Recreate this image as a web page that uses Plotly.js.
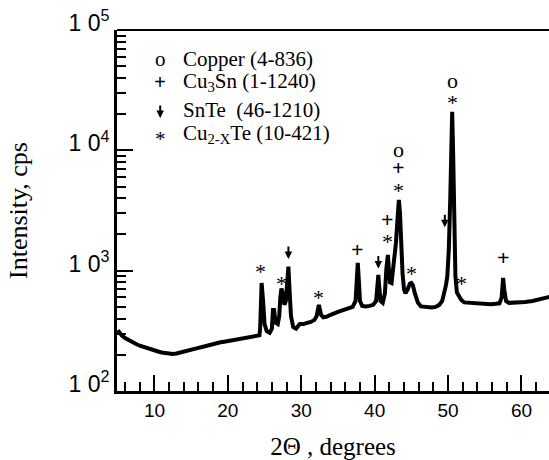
<!DOCTYPE html>
<html>
<head>
<meta charset="utf-8">
<script src="https://cdn.plot.ly/plotly-3.0.1.min.js"></script>
<style>html,body{margin:0;padding:0;background:#fff;}#chart{width:549px;height:460px;}</style>
</head>
<body>
<div id="chart"></div>
<script>
// ---- data ----
const twoTheta = [
  5.0, 5.3, 5.6, 6.0, 6.5, 7.0, 7.5, 8.0, 8.5, 9.0, 9.5, 10.0, 10.5, 11.0, 11.5, 12.0, 12.5, 13.0, 13.5, 14.0,
  14.5, 15.0, 15.5, 16.0, 16.5, 17.0, 17.5, 18.0, 18.5, 19.0, 19.5, 20.0, 20.5, 21.0, 21.5, 22.0, 22.5, 23.0, 23.5, 24.0,
  24.3, 24.4, 24.5, 24.6, 24.8, 25.0, 25.3, 25.7, 26.0, 26.15, 26.3, 26.5, 26.8, 27.0, 27.15, 27.3, 27.5, 27.7, 27.9, 28.1,
  28.25, 28.4, 28.6, 28.9, 29.3, 29.8, 30.3, 30.8, 31.3, 31.8, 32.1, 32.4, 32.7, 33.0, 33.5, 34.0, 34.5, 35.0, 35.5, 36.0,
  36.5, 37.0, 37.4, 37.55, 37.7, 37.85, 38.0, 38.3, 38.8, 39.3, 39.8, 40.2, 40.4, 40.5, 40.6, 40.8, 41.1, 41.4, 41.6, 41.8,
  41.95, 42.1, 42.3, 42.6, 42.9, 43.1, 43.3, 43.45, 43.6, 43.8, 44.0, 44.2, 44.5, 44.8, 45.0, 45.2, 45.5, 45.9, 46.3, 46.8,
  47.3, 47.8, 48.3, 48.8, 49.2, 49.5, 49.7, 49.9, 50.1, 50.3, 50.45, 50.56, 50.7, 50.85, 51.0, 51.2, 51.5, 51.8, 52.2, 52.8,
  53.5, 54.2, 55.0, 55.8, 56.5, 57.0, 57.3, 57.5, 57.65, 57.9, 58.3, 59.0, 59.8, 60.5, 61.5, 62.5, 63.5, 64.0
];
const intensity = [
  320, 300, 287, 275, 263, 254, 246, 238, 232, 228, 222, 218, 213, 209, 206, 204, 203, 205, 208, 212,
  216, 220, 224, 228, 232, 237, 241, 246, 250, 254, 257, 260, 263, 266, 270, 272, 275, 278, 281, 284,
  290, 330, 600, 790, 560, 360, 315, 305, 330, 470, 470, 370, 360, 420, 600, 710, 640, 520, 560, 900,
  1080, 700, 420, 340, 330, 360, 360, 368, 375, 390, 420, 520, 430, 410, 415, 430, 445, 455, 465, 475,
  488, 500, 560, 900, 1160, 820, 560, 510, 505, 510, 520, 560, 800, 920, 760, 560, 540, 650, 1050, 1350,
  1000, 800, 790, 1100, 1700, 2600, 3870, 3000, 1700, 950, 700, 650, 700, 780, 790, 760, 640, 540, 505, 500,
  495, 495, 500, 520, 560, 650, 750, 900, 1500, 4000, 14000, 20900, 9000, 2000, 900, 660, 600, 570, 545, 540,
  535, 530, 530, 525, 530, 535, 600, 870, 700, 560, 540, 540, 545, 550, 560, 575, 600, 610
];
const yTickValues = [100, 1000, 10000, 100000];
const yTickLabels = ['1 0<sup>2</sup>', '1 0<sup>3</sup>', '1 0<sup>4</sup>', '1 0<sup>5</sup>'];
const xTickValues = [10, 20, 30, 40, 50, 60];
const xTickLabels = ['10', '20', '30', '40', '50', '60'];

// peak identification symbols: 2theta, height (cps), symbol
const peakMarkTheta  = [24.5, 27.3, 32.4, 37.7, 41.8, 41.8, 43.3, 43.3, 43.3, 45.0, 50.56, 50.56, 51.8, 57.5, 64.0];
const peakMarkCps    = [1075, 853, 653, 1486, 1905, 2638, 5150, 7140, 9700, 1033, 27300, 36300, 853, 1276, 921];
const peakMarkSymbol = ['*', '*', '*', '+', '*', '+', '*', '+', 'o', '*', '*', 'o', '*', '+', '*'];
// SnTe arrows: 2theta, tip height (cps)
const snTeTheta = [28.25, 40.5, 49.56];
const snTeCps   = [1250, 1040, 2300];

// legend
const legendSymbols = ['o', '+', '', '*'];
const legendNames = ['Copper (4-836)', 'Cu<sub>3</sub>Sn (1-1240)', 'SnTe  (46-1210)', 'Cu<sub>2-X</sub>Te (10-421)'];

// ---- build ----
const serif = 'Liberation Serif, Times New Roman, serif';
const sans = 'Liberation Sans, Arial, sans-serif';

const minorY = [];
for (let d = 2; d < 5; d++) for (let k = 2; k <= 9; k++) minorY.push(k * Math.pow(10, d));

function symText(s) { return s === '+' ? '<b>+</b>' : s; }

const annotations = [];
peakMarkTheta.forEach((t, i) => {
  const s = peakMarkSymbol[i];
  annotations.push({
    x: t, y: Math.log10(peakMarkCps[i]), xref: 'x', yref: 'y',
    text: symText(s), showarrow: false, xanchor: 'center', yanchor: 'middle',
    yshift: s === '*' ? -5 : (s === 'o' ? 2 : 0),
    font: {family: serif, size: 22, color: '#000'}
  });
});
snTeTheta.forEach((t, i) => {
  annotations.push({
    x: t, y: Math.log10(snTeCps[i]), xref: 'x', yref: 'y',
    text: '', showarrow: true, ax: 0, ay: -14, arrowhead: 2, arrowsize: 0.75, arrowwidth: 2,
    arrowcolor: '#000', standoff: 0, startstandoff: 0
  });
});
// legend block (paper coordinates inside the plot frame)
const rowY = [0.920, 0.855, 0.778, 0.712];
legendNames.forEach((n, i) => {
  annotations.push({
    x: 0.147, y: rowY[i], xref: 'paper', yref: 'paper', text: n, showarrow: false,
    xanchor: 'left', yanchor: 'middle', font: {family: serif, size: 21, color: '#000'}
  });
  if (legendSymbols[i]) {
    annotations.push({
      x: 0.1, y: rowY[i], xref: 'paper', yref: 'paper', text: symText(legendSymbols[i]), showarrow: false,
      xanchor: 'center', yanchor: 'middle', yshift: legendSymbols[i] === '*' ? -5 : 0,
      font: {family: serif, size: 21, color: '#000'}
    });
  } else {
    annotations.push({
      x: 0.1, y: rowY[i] - 0.022, xref: 'paper', yref: 'paper', text: '', showarrow: true,
      ax: 0, ay: -14, arrowhead: 2, arrowsize: 0.75, arrowwidth: 2, arrowcolor: '#000',
      standoff: 0, startstandoff: 0
    });
  }
});

const trace = {
  x: twoTheta, y: intensity, type: 'scatter', mode: 'lines',
  line: {color: '#000', width: 4, shape: 'linear'}, hoverinfo: 'skip'
};

const layout = {
  width: 549, height: 460,
  margin: {l: 117, r: 0, t: 30, b: 69, pad: 0},
  paper_bgcolor: '#fff', plot_bgcolor: '#fff',
  showlegend: false,
  xaxis: {
    range: [4.9, 63.75], showgrid: false, zeroline: false,
    showline: true, linewidth: 3, linecolor: '#000',
    tickmode: 'array', tickvals: xTickValues, ticktext: xTickLabels,
    ticks: 'inside', ticklen: 16, tickwidth: 2, tickcolor: '#000',
    minor: {ticks: 'inside', ticklen: 9, tickwidth: 2, tickcolor: '#000', tick0: 0, dtick: 2, showgrid: false},
    tickfont: {family: sans, size: 19, color: '#000'},
    title: {text: '2\u0398 , degrees', font: {family: serif, size: 25, color: '#000'}, standoff: 22}
  },
  yaxis: {
    type: 'log', range: [2, 5], showgrid: false, zeroline: false,
    showline: true, linewidth: 3, linecolor: '#000',
    tickmode: 'array', tickvals: yTickValues, ticktext: yTickLabels,
    ticks: 'inside', ticklen: 16, tickwidth: 2, tickcolor: '#000',
    minor: {ticks: 'inside', ticklen: 9, tickwidth: 2, tickcolor: '#000', tickmode: 'array', tickvals: minorY, showgrid: false},
    tickfont: {family: sans, size: 23, color: '#000'},
    ticklabelshift: -7,
    title: {text: 'Intensity, cps', font: {family: serif, size: 26, color: '#000'}, standoff: 34}
  },
  shapes: [{type: 'line', xref: 'paper', yref: 'paper', x0: 0, x1: 1, y0: 1, y1: 1, line: {color: '#000', width: 2}}],
  annotations: annotations
};

Plotly.newPlot('chart', [trace], layout, {staticPlot: true, displayModeBar: false});
</script>
</body>
</html>
